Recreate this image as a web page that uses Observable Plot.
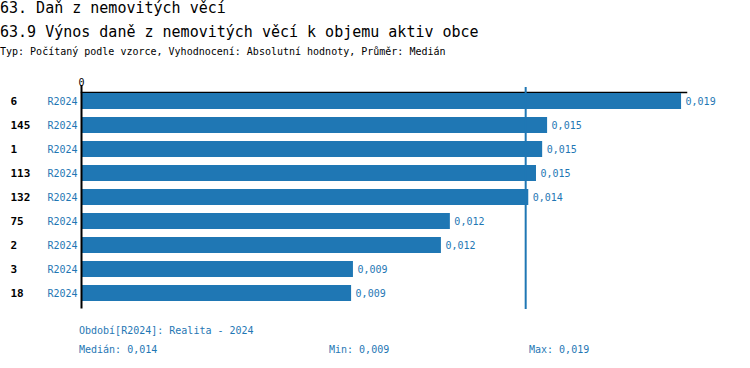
<!DOCTYPE html>
<html>
<head>
<meta charset="utf-8">
<script src="https://cdn.jsdelivr.net/npm/d3@7"></script>
<script src="https://cdn.jsdelivr.net/npm/@observablehq/plot@0.6"></script>
<style>
  html, body { margin: 0; padding: 0; background: #fff; }
  body { width: 750px; height: 368px; position: relative; overflow: hidden; font-family: "DejaVu Sans Mono", monospace; }
  .t { position: absolute; left: 0; white-space: pre; }
  .t1 { font-size: 15px; line-height: 15px; color: #000; }
  .t3 { font-size: 10px; line-height: 10px; color: #000; }
  .f { font-size: 10px; line-height: 10px; color: #1f77b4; position: absolute; white-space: pre; }
  #chart { position: absolute; left: 0; top: 60px; }
</style>
</head>
<body>
<div class="t t1" id="title1" style="top:1.3px"></div>
<div class="t t1" id="title2" style="top:24.6px"></div>
<div class="t t3" id="subtitle" style="top:46.5px"></div>
<div id="chart"></div>
<div class="f" id="period" style="left:79px; top:325.5px"></div>
<div class="f" id="fMedian" style="left:79px; top:344.8px"></div>
<div class="f" id="fMin" style="left:329px; top:344.8px"></div>
<div class="f" id="fMax" style="left:529px; top:344.8px"></div>
<script>
const title1 = "63. Daň z nemovitých věcí";
const title2 = "63.9 Výnos daně z nemovitých věcí k objemu aktiv obce";
const subtitle = "Typ: Počítaný podle vzorce, Vyhodnocení: Absolutní hodnoty, Průměr: Medián";
const periodText = "Období[R2024]: Realita - 2024";

const codes = ["6", "145", "1", "113", "132", "75", "2", "3", "18"];
const periodLabels = ["R2024", "R2024", "R2024", "R2024", "R2024", "R2024", "R2024", "R2024", "R2024"];
const values = [0.01944, 0.01510, 0.01494, 0.01474, 0.01449, 0.01195, 0.01166, 0.00881, 0.00875];
const medianValue = 0.01439;
const xMax = 0.0196;
const xTicks = [0];

const fmt = v => d3.format(".3f")(v).replace(".", ",");

document.getElementById("title1").textContent = title1;
document.getElementById("title2").textContent = title2;
document.getElementById("subtitle").textContent = subtitle;
document.getElementById("period").textContent = periodText;
document.getElementById("fMedian").textContent = "Medián: " + fmt(medianValue);
document.getElementById("fMin").textContent = "Min: " + fmt(d3.min(values));
document.getElementById("fMax").textContent = "Max: " + fmt(d3.max(values));

const rows = codes.map((c, i) => ({code: c, period: periodLabels[i], value: values[i]}));
const blue = "#1f77b4";

const chart = Plot.plot({
  width: 750,
  height: 260,
  marginTop: 28.5,
  marginBottom: 15.5,
  marginLeft: 81,
  marginRight: 64,
  style: {fontFamily: "DejaVu Sans Mono", fontSize: "10px", background: "white"},
  x: {domain: [0, xMax], axis: null, label: null},
  y: {domain: codes, paddingInner: 0.35, paddingOuter: 0.175, axis: null, label: null},
  marks: [
    Plot.frame({anchor: "top", stroke: "black", strokeWidth: 1.5, dy: 3.5}),
    Plot.barX(rows, {x: "value", y: "code", fill: blue}),
    Plot.ruleX([medianValue], {stroke: blue, strokeWidth: 2, insetTop: -1.5, insetBottom: -4.5}),
    Plot.ruleX(xTicks, {stroke: "black", strokeWidth: 2, insetTop: -3.5, insetBottom: -4}),
    Plot.axisX({anchor: "top", ticks: xTicks, tickSize: 0, tickPadding: 3, fontSize: 10, tickFormat: d => String(d), fill: "black", label: null}),
    Plot.text(rows, {x: "value", y: "code", text: d => fmt(d.value), textAnchor: "start", dx: 4, fill: blue, fontSize: 10}),
    Plot.text(rows, {y: "code", text: "code", frameAnchor: "left", textAnchor: "start", dx: -71, fill: "black", fontSize: 11, fontWeight: "bold"}),
    Plot.text(rows, {y: "code", text: "period", frameAnchor: "left", textAnchor: "end", dx: -4, fill: blue, fontSize: 10})
  ]
});
document.getElementById("chart").appendChild(chart);
</script>
</body>
</html>
